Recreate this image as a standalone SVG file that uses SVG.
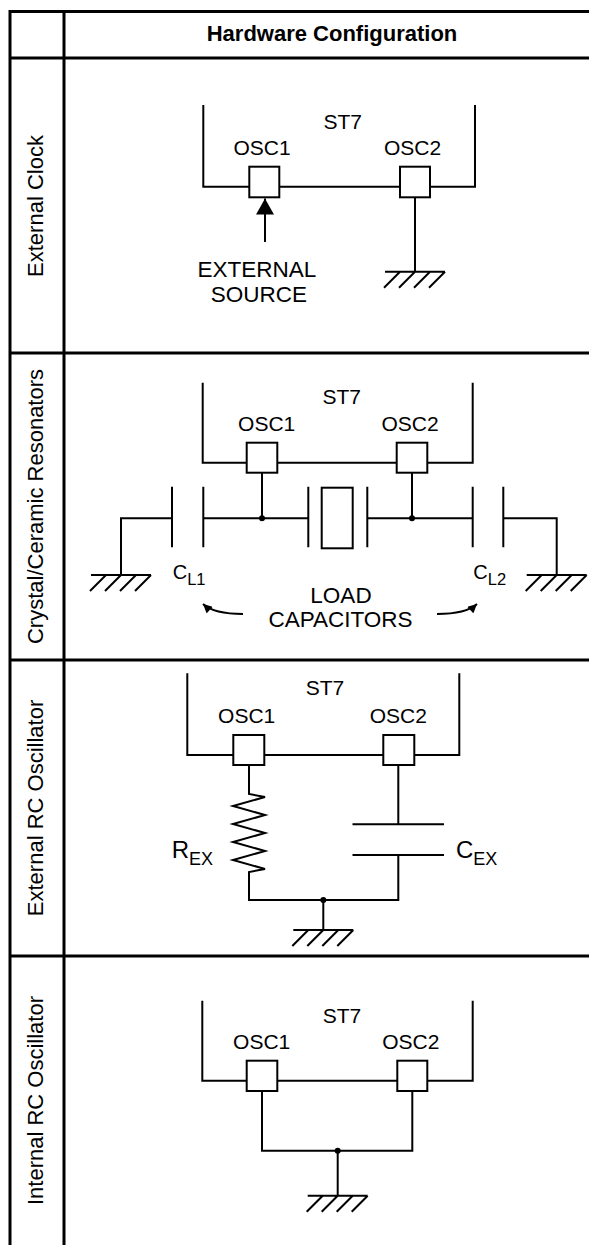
<svg xmlns="http://www.w3.org/2000/svg" xmlns:xlink="http://www.w3.org/1999/xlink" width="589" height="1245" viewBox="0 0 589 1245">
<style>
.tb{stroke:#000;stroke-width:3;fill:none}
.w{stroke:#000;stroke-width:2;fill:none}
.pin{fill:#fff;stroke:#000;stroke-width:2}
.dot{fill:#000}
text{font-family:"Liberation Sans",Arial,Helvetica,sans-serif;fill:#000}
.hdr{font-size:22px;font-weight:bold;text-anchor:middle}
.row{font-size:22px;text-anchor:middle}
.lbl{font-size:21px;text-anchor:middle}
.big{font-size:22.5px;text-anchor:middle}
</style>
<defs>
<g id="gnd" class="w"><path d="M-30,0 H30 M-15,0 l-16,16 M0,0 l-16,16 M15,0 l-16,16 M30,0 l-16,16"/></g>
<marker id="bigArrow" viewBox="0 0 16 18" refX="16" refY="9" markerWidth="16" markerHeight="18" markerUnits="userSpaceOnUse" orient="auto"><path d="M0,0 L16,9 L0,18 z" fill="#000"/></marker>
<marker id="smallArrow" viewBox="0 0 10 10" refX="10" refY="5" markerWidth="10" markerHeight="9" markerUnits="userSpaceOnUse" orient="auto"><path d="M0,0 L10,5 L0,10 z" fill="#000"/></marker>
</defs>

<g id="table">
<path class="tb" d="M10,11.5 H589 M10,58 H589 M10,353 H589 M10,660 H589 M10,956 H589 M10,10 V1245 M64,10 V1245"/>
<text class="hdr" x="332" y="41">Hardware Configuration</text>
<text class="row" transform="translate(42.5,206) rotate(-90)">External Clock</text>
<text class="row" transform="translate(42.5,506.5) rotate(-90)">Crystal/Ceramic Resonators</text>
<text class="row" transform="translate(42.5,808) rotate(-90)">External RC Oscillator</text>
<text class="row" transform="translate(42.5,1100.5) rotate(-90)">Internal RC Oscillator</text>
</g>

<g id="connectors">
<!-- External clock -->
<path class="w" d="M265,242 V198.5" marker-end="url(#bigArrow)"/>
<path class="w" d="M415,197.3 V271.7"/>
<use xlink:href="#gnd" x="415" y="271.7"/>
<!-- Crystal -->
<path class="w" d="M262,472.7 V518.3 M412,472.7 V518.3 M203.3,518.3 H308.3 M367.3,518.3 H472.7 M172,518.3 H121 V575 M503.3,518.3 H556.7 V575"/>
<path class="w" d="M172,486.7 V547.3 M203.3,486.7 V547.3 M308.3,486.7 V547.3 M367.3,486.7 V547.3 M472.7,486.7 V547.3 M503.3,486.7 V547.3"/>
<rect class="w" x="321.7" y="487.7" width="31" height="60.6"/>
<circle class="dot" cx="262" cy="518.3" r="3"/>
<circle class="dot" cx="412" cy="518.3" r="3"/>
<use xlink:href="#gnd" x="121" y="575"/>
<use xlink:href="#gnd" x="556.7" y="575"/>
<path class="w" d="M243,614 Q214,614 203,604" marker-end="url(#smallArrow)"/>
<path class="w" d="M437,614 Q466,614 477,604" marker-end="url(#smallArrow)"/>
<!-- External RC -->
<path class="w" d="M249,765 V794 L265,797 L233,806 L265,815 L233,824 L265,833 L233,842 L265,851 L233,860 L265,869 L249,872 V900 H398.3 V855 M398.3,765 V824.3"/>
<path class="w" d="M352.5,824.3 H444 M352.5,855 H444"/>
<circle class="dot" cx="323.3" cy="900" r="3"/>
<path class="w" d="M323.3,900 V930"/>
<use xlink:href="#gnd" x="323.3" y="930"/>
<!-- Internal RC -->
<path class="w" d="M262,1091 V1150.7 H412.3 V1091"/>
<circle class="dot" cx="337.7" cy="1150.7" r="3"/>
<path class="w" d="M337.7,1150.7 V1195.7"/>
<use xlink:href="#gnd" x="337.7" y="1195.7"/>
</g>

<g id="ext-clock">
<g id="ext-clock-st7">
<path class="w" d="M203.3,105 V186.7 H475 V105"/>
<text class="lbl" x="342.8" y="129">ST7</text>
</g>
<g id="ext-clock-osc1"><rect class="pin" x="249.3" y="166.7" width="30" height="30.6"/><text class="lbl" x="262" y="155">OSC1</text></g>
<g id="ext-clock-osc2"><rect class="pin" x="400" y="166.7" width="30" height="30.6"/><text class="lbl" x="412.5" y="155">OSC2</text></g>
<g id="ext-source"><text class="big" x="257" y="277.3">EXTERNAL</text><text class="big" x="259" y="301.7">SOURCE</text></g>
</g>

<g id="crystal">
<g id="crystal-st7">
<path class="w" d="M202.7,382.7 V462.7 H472.7 V382.7"/>
<text class="lbl" x="341.7" y="404">ST7</text>
</g>
<g id="crystal-osc1"><rect class="pin" x="246.7" y="442.7" width="30.6" height="30"/><text class="lbl" x="266.7" y="430.7">OSC1</text></g>
<g id="crystal-osc2"><rect class="pin" x="396.7" y="442.7" width="30.6" height="30"/><text class="lbl" x="410" y="430.7">OSC2</text></g>
<g id="cl1"><text x="172.7" y="579" font-size="20">C<tspan font-size="16.5" dy="6">L1</tspan></text></g>
<g id="cl2"><text x="473.3" y="579" font-size="20">C<tspan font-size="16.5" dy="6">L2</tspan></text></g>
<g id="load-caps"><text class="big" x="341" y="603.3">LOAD</text><text class="big" x="340.5" y="627.3">CAPACITORS</text></g>
</g>

<g id="ext-rc">
<g id="ext-rc-st7">
<path class="w" d="M187.3,673.3 V755 H459.3 V673.3"/>
<text class="lbl" x="325" y="695">ST7</text>
</g>
<g id="ext-rc-osc1"><rect class="pin" x="233.3" y="735" width="31" height="30"/><text class="lbl" x="246.7" y="723.3">OSC1</text></g>
<g id="ext-rc-osc2"><rect class="pin" x="383.3" y="735" width="31" height="30"/><text class="lbl" x="398.3" y="723.3">OSC2</text></g>
<g id="rex"><text x="171.7" y="858" font-size="24">R<tspan font-size="18" dy="7">EX</tspan></text></g>
<g id="cex"><text x="456" y="858" font-size="24">C<tspan font-size="18" dy="7">EX</tspan></text></g>
</g>

<g id="int-rc">
<g id="int-rc-st7">
<path class="w" d="M202.3,1000.7 V1080.7 H472.7 V1000.7"/>
<text class="lbl" x="342" y="1023.3">ST7</text>
</g>
<g id="int-rc-osc1"><rect class="pin" x="246.7" y="1060.7" width="30.6" height="30.3"/><text class="lbl" x="261.7" y="1049.3">OSC1</text></g>
<g id="int-rc-osc2"><rect class="pin" x="397.3" y="1060.7" width="30" height="30.3"/><text class="lbl" x="410.8" y="1049.3">OSC2</text></g>
</g>
</svg>
